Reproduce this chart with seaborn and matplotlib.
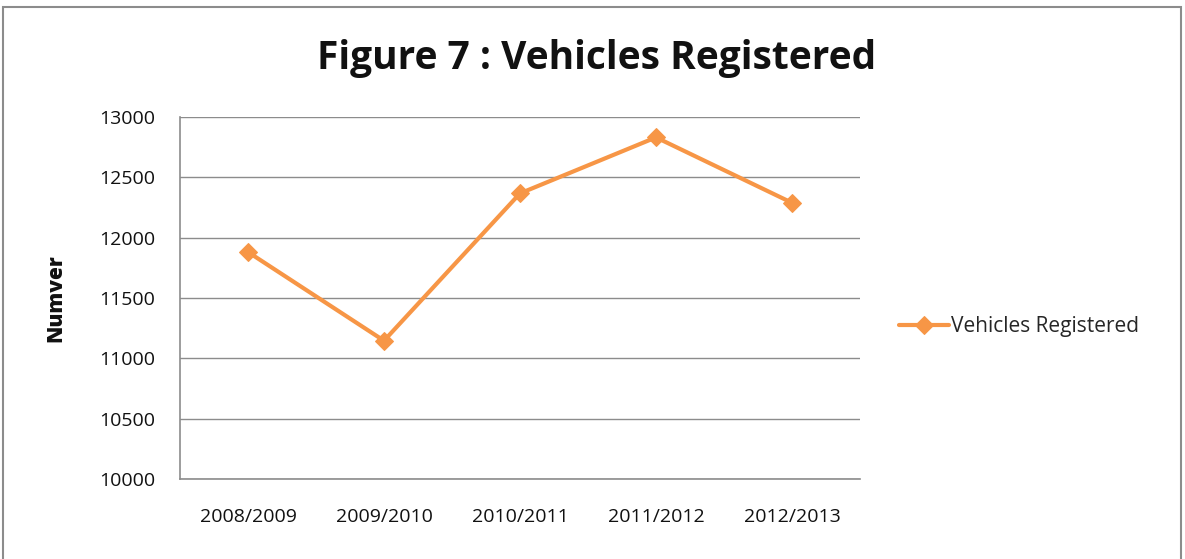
import matplotlib
matplotlib.use('Agg')
import matplotlib.pyplot as plt
from matplotlib.patches import Rectangle
import seaborn as sns
import pandas as pd

years = ['2008/2009', '2009/2010', '2010/2011', '2011/2012', '2012/2013']
vehicles = [11881, 11146, 12367, 12831, 12289]
series_name = 'Vehicles Registered'
y_ticks = [10000, 10500, 11000, 11500, 12000, 12500, 13000]

sns.set_style('white')
plt.rcParams['font.family'] = ['Open Sans', 'DejaVu Sans']

df = pd.DataFrame({'year': years, 'value': vehicles, 'series': series_name})

fig = plt.figure(figsize=(11.85, 5.59), dpi=100)
ax = fig.add_axes([180 / 1185, 1 - 479 / 559, 680 / 1185, 362 / 559])

orange = '#F79646'
sns.lineplot(data=df, x='year', y='value', hue='series', palette=[orange],
             marker='D', markersize=9, linewidth=3, markeredgecolor=orange,
             sort=False, ax=ax)

ax.set_ylim(10000, 13000)
ax.set_xlim(-0.5, len(years) - 0.5)
ax.set_yticks(y_ticks)
ax.set_yticklabels([str(v) for v in y_ticks], fontsize=14, color='#111111')
ax.set_xticks(range(len(years)))
ax.set_xticklabels(years, fontsize=14, color='#111111')
ax.tick_params(axis='y', length=0, pad=18)
ax.tick_params(axis='x', length=0, pad=21)
ax.yaxis.grid(True, color='#8c8c8c', linewidth=1)
ax.set_axisbelow(True)
for side in ['top', 'right']:
    ax.spines[side].set_visible(False)
for side in ['left', 'bottom']:
    ax.spines[side].set_color('#8c8c8c')
    ax.spines[side].set_linewidth(1.2)

ax.set_xlabel('')
ax.set_ylabel('Numver', fontsize=15, fontweight='heavy', color='#111111')
ax.yaxis.set_label_coords((66 - 180) / 680, 0.5)

ax.legend(loc='center left', bbox_to_anchor=(1.045, 0.42), frameon=False,
          fontsize=15, handlelength=2.4, handletextpad=0.1,
          borderaxespad=0)

fig.suptitle('Figure 7 : Vehicles Registered', x=597 / 1185, y=1 - 58 / 559,
             va='center', fontsize=28, fontweight='bold', color='#111111')

fig.patches.append(Rectangle((3 / 1185, -0.05), 1178 / 1185, 1 - 7 / 559 + 0.05,
                             transform=fig.transFigure, fill=False,
                             edgecolor='#8c8c8c', linewidth=1.5))

fig.savefig('out.png', dpi=100)
